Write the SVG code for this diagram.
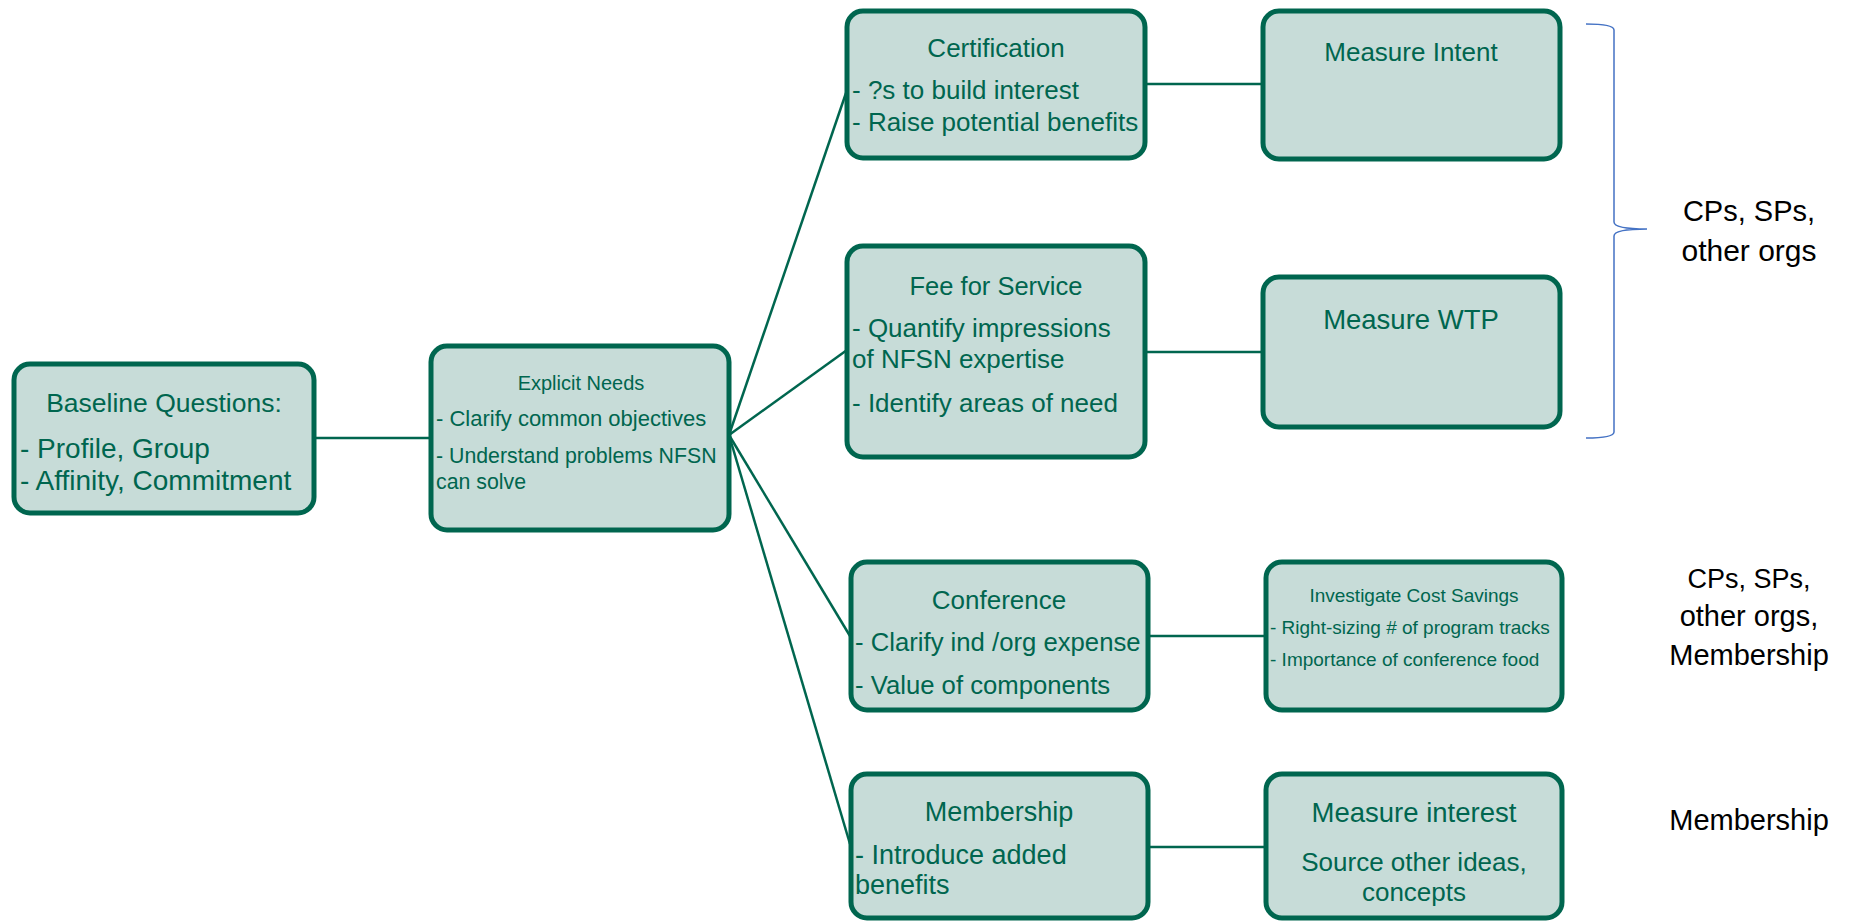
<svg xmlns="http://www.w3.org/2000/svg" width="1858" height="922" viewBox="0 0 1858 922">
<style>
.box{fill:#C7DCD8;stroke:#00664F;stroke-width:5}
.t{font-family:"Liberation Sans",Arial,sans-serif;fill:#00664F}
.c{text-anchor:middle}
.conn{stroke:#00664F;stroke-width:2.5;fill:none}
.lbl{font-family:"Liberation Sans",Arial,sans-serif;fill:#000;font-size:29px;text-anchor:middle}
</style>
<rect width="1858" height="922" fill="#fff"/>
<g id="connectors">
<line class="conn" x1="314" y1="438" x2="431" y2="438"/>
<line class="conn" x1="729" y1="435" x2="846" y2="93"/>
<line class="conn" x1="729" y1="435" x2="847" y2="350"/>
<line class="conn" x1="729" y1="435" x2="850" y2="636"/>
<line class="conn" x1="729" y1="435" x2="850" y2="844"/>
<line class="conn" x1="1145" y1="84" x2="1263" y2="84"/>
<line class="conn" x1="1145" y1="352" x2="1263" y2="352"/>
<line class="conn" x1="1148" y1="636" x2="1266" y2="636"/>
<line class="conn" x1="1148" y1="847" x2="1266" y2="847"/>
</g>
<g id="baseline">
<rect class="box" x="14" y="364" width="300" height="149" rx="16"/>
<text class="t c" x="164" y="412" font-size="26.5">Baseline Questions:</text>
<text class="t" x="20" y="458" font-size="28">- Profile, Group</text>
<text class="t" x="20" y="490" font-size="28">- Affinity, Commitment</text>
</g>
<g id="explicit">
<rect class="box" x="431" y="346" width="298" height="184" rx="16"/>
<text class="t c" x="581" y="390" font-size="20">Explicit Needs</text>
<text class="t" x="436" y="426" font-size="22">- Clarify common objectives</text>
<text class="t" x="436" y="463" font-size="21.3">- Understand problems NFSN</text>
<text class="t" x="436" y="489" font-size="21.3">can solve</text>
</g>
<g id="certification">
<rect class="box" x="847" y="11" width="298" height="147" rx="16"/>
<text class="t c" x="996" y="57" font-size="26">Certification</text>
<text class="t" x="852" y="99" font-size="26">- ?s to build interest</text>
<text class="t" x="852" y="131" font-size="26">- Raise potential benefits</text>
</g>
<g id="fee">
<rect class="box" x="847" y="246" width="298" height="211" rx="16"/>
<text class="t c" x="996" y="295" font-size="25.5">Fee for Service</text>
<text class="t" x="852" y="337" font-size="26">- Quantify impressions</text>
<text class="t" x="852" y="368" font-size="26">of NFSN expertise</text>
<text class="t" x="852" y="412" font-size="26">- Identify areas of need</text>
</g>
<g id="conference">
<rect class="box" x="851" y="562" width="297" height="148" rx="16"/>
<text class="t c" x="999" y="609" font-size="26">Conference</text>
<text class="t" x="855" y="651" font-size="25.7">- Clarify ind /org expense</text>
<text class="t" x="855" y="694" font-size="25.7">- Value of components</text>
</g>
<g id="membership">
<rect class="box" x="851" y="774" width="297" height="144" rx="16"/>
<text class="t c" x="999" y="821" font-size="27">Membership</text>
<text class="t" x="855" y="864" font-size="27">- Introduce added</text>
<text class="t" x="855" y="894" font-size="27">benefits</text>
</g>
<g id="intent">
<rect class="box" x="1263" y="11" width="297" height="148" rx="16"/>
<text class="t c" x="1411" y="61" font-size="26">Measure Intent</text>
</g>
<g id="wtp">
<rect class="box" x="1263" y="277" width="297" height="150" rx="16"/>
<text class="t c" x="1411" y="329" font-size="27.5">Measure WTP</text>
</g>
<g id="cost">
<rect class="box" x="1266" y="562" width="296" height="148" rx="16"/>
<text class="t c" x="1414" y="602" font-size="19">Investigate Cost Savings</text>
<text class="t" x="1270" y="634" font-size="19">- Right-sizing # of program tracks</text>
<text class="t" x="1270" y="666" font-size="19">- Importance of conference food</text>
</g>
<g id="interest">
<rect class="box" x="1266" y="774" width="296" height="144" rx="16"/>
<text class="t c" x="1414" y="822" font-size="27.5">Measure interest</text>
<text class="t c" x="1414" y="871" font-size="26">Source other ideas,</text>
<text class="t c" x="1414" y="901" font-size="26">concepts</text>
</g>
<g id="brace">
<path d="M1586,24 Q1614,24 1614,30 L1614,222 Q1614,229 1647,229 Q1614,229 1614,236 L1614,432 Q1614,438 1586,438" fill="none" stroke="#4472C4" stroke-width="1.5"/>
</g>
<g id="labels">
<text class="lbl" x="1749" y="221" font-size="27">CPs, SPs,</text>
<text class="lbl" x="1749" y="261" style="font-size:30px">other orgs</text>
<text class="lbl" x="1749" y="588" style="font-size:27px">CPs, SPs,</text>
<text class="lbl" x="1749" y="626">other orgs,</text>
<text class="lbl" x="1749" y="665">Membership</text>
<text class="lbl" x="1749" y="830">Membership</text>
</g>
</svg>
